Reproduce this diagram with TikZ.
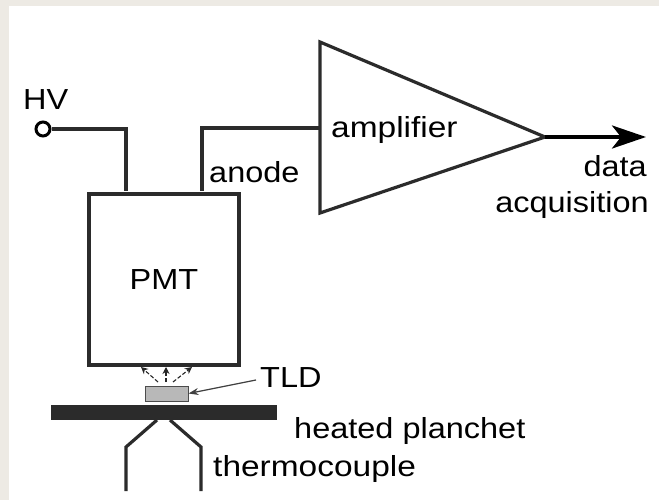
\documentclass[tikz,border=0pt]{standalone}
\usepackage{fontspec}
\setmainfont{Liberation Sans}
\usetikzlibrary{calc}
\usetikzlibrary{arrows.meta}
\definecolor{wirecol}{HTML}{2B2B2B}
\definecolor{paper}{HTML}{EDEAE4}
\tikzset{
  wire/.style={wirecol, line width=3.2pt, line join=miter},
  lbl/.style={inner sep=0pt, transform shape, xscale=1.12, text=black, font=\fontsize{29}{32}\selectfont},
  glow/.style={-{Stealth[length=7pt,width=7pt]}, dash pattern=on 4pt off 2pt, black!85, line width=1.1pt}
}
\begin{document}
\begin{tikzpicture}[x=1pt, y=-1pt]
\useasboundingbox (0,0) rectangle (659,500);
\fill[paper] (0,0) rectangle (659,500);
\fill[white] (9,6) rectangle (659,500);

% boxes
\node[draw=wirecol, line width=4pt, minimum width=150pt, minimum height=171pt, inner sep=0pt] (pmt) at (164,279.5) {};
\node[lbl] (pmtlabel) at (pmt.center) {PMT};
\node[draw=black!70, line width=1pt, fill=black!28, minimum width=43pt, minimum height=15pt, inner sep=0pt] (tld) at (166.5,393.5) {};
\node[fill=wirecol, minimum width=226pt, minimum height=15pt, inner sep=0pt] (planchet) at (164,412.5) {};
\node[draw=black, line width=3pt, circle, minimum size=14pt, inner sep=0pt] (hv) at (43,129) {};

% amplifier
\coordinate (ampa) at (320,42);
\coordinate (ampb) at (320,213);
\coordinate (ampc) at (545,137);
\coordinate (amptop) at (320,128);
\draw[wire] (ampa) -- (ampb) -- (ampc) -- cycle;

% wires
\draw[wire] (hv.east) -| (126,191);
\draw[wire] (202,191) |- (amptop);
\draw[wire, line width=4pt, -{Stealth[length=34pt,width=23pt,inset=9pt]}, black] (ampc) -- (646,137);

% light from the TLD
\foreach \xa/\xb in {158/141, 166/166, 173/192}
  \draw[glow] (\xa,382) -- (\xb,367);
\node[lbl, anchor=west] (tldlabel) at (260,378) {TLD};
\draw[black!75, line width=1.2pt, -{Stealth[length=10pt,width=7pt]}] (tldlabel.west) ++(-4,2) -- (tld.east);

% thermocouple
\draw[wire] (157,420) -- (126,447) -- (126,491);
\draw[wire] (170,420) -- (201,447) -- (201,491);

\node[lbl, anchor=base west] (anode) at (209,182.5) {anode};
\node[lbl, anchor=base west] (hvlabel) at (23,110) {HV};
\node[lbl, anchor=base west, xscale=1.03] (amplabel) at (331,137.5) {amplifier};
\node[lbl, anchor=base east] (datalabel) at (647,177) {data};
\node[lbl, anchor=base east] (acqlabel) at (649,212) {acquisition};
\node[lbl, anchor=base west] (heatlabel) at (294,438) {heated planchet};
\node[lbl, anchor=base west, xscale=1.03] (tclabel) at (213,476) {thermocouple};
\end{tikzpicture}
\end{document}
